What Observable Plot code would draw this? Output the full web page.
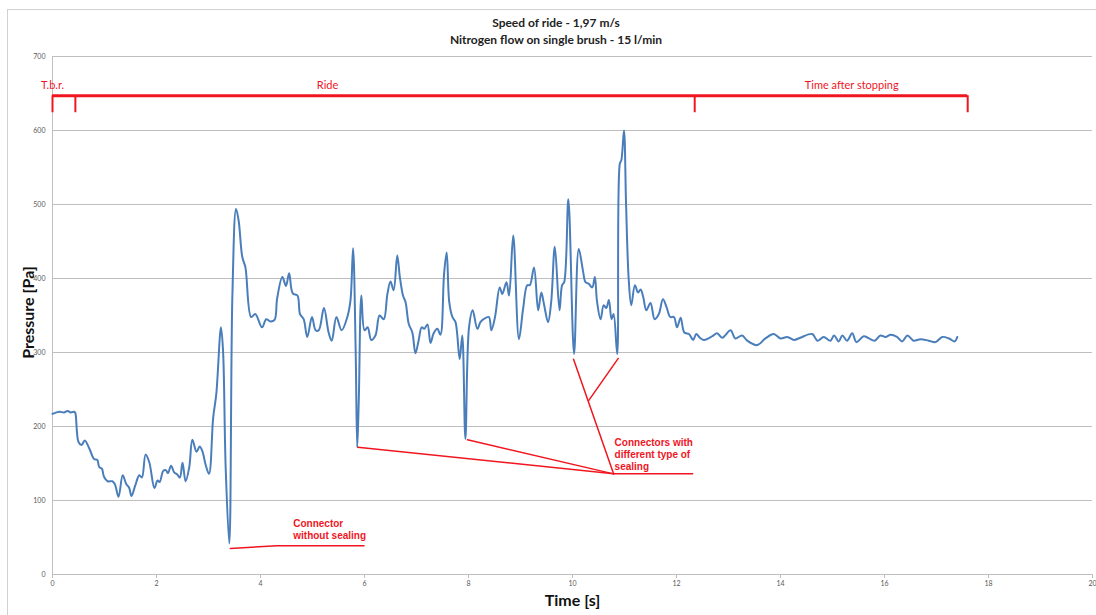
<!DOCTYPE html>
<html>
<head>
<meta charset="utf-8">
<script src="https://cdn.jsdelivr.net/npm/d3@7"></script>
<script src="https://cdn.jsdelivr.net/npm/@observablehq/plot@0.6"></script>
<style>
  html, body { margin: 0; padding: 0; background: #fff; width: 1096px; height: 615px; overflow: hidden; }
  #frame { position: absolute; left: 7px; top: 9px; width: 1200px; height: 700px; border-left: 1px solid #d0d0d0; border-top: 1px solid #d0d0d0; }
  #title { position: relative; height: 46px; width: 1096px; }
  .tl { position: absolute; left: 0; width: 1112px; text-align: center; font-family: "Liberation Sans Narrow", Lato, sans-serif; font-weight: bold; font-size: 12px; color: #222; }
  #chart { position: relative; }
</style>
</head>
<body>
<div id="frame"></div>
<div id="title">
  <div class="tl" style="top:15px">Speed of ride - 1,97 m/s</div>
  <div class="tl" style="top:32px">Nitrogen flow on single brush - 15 l/min</div>
</div>
<div id="chart"></div>
<script>
// Measured series: time [s] and pressure [Pa]
const times = [
  0, 0.13, 0.22, 0.29, 0.35, 0.42, 0.44, 0.5, 0.56, 0.62, 0.71, 0.8, 0.86, 0.9, 0.95, 0.99,
  1.06, 1.15, 1.2, 1.27, 1.35, 1.42, 1.47, 1.52, 1.59, 1.67, 1.72, 1.79, 1.86, 1.96,
  2.02, 2.06, 2.13, 2.18, 2.22, 2.28, 2.34, 2.40, 2.45, 2.50, 2.56, 2.63, 2.69, 2.77, 2.83, 2.88, 2.95,
  3.01, 3.09, 3.15, 3.24, 3.28, 3.33, 3.40, 3.46, 3.53, 3.58, 3.65, 3.71, 3.82, 3.90,
  4.03, 4.11, 4.19, 4.27, 4.32, 4.42, 4.49, 4.55, 4.62, 4.71, 4.76, 4.83, 4.90, 4.99,
  5.06, 5.12, 5.22, 5.31, 5.37, 5.46, 5.56, 5.67, 5.73, 5.78, 5.83, 5.86, 5.89, 5.94,
  6.0, 6.06, 6.13, 6.21, 6.29, 6.37, 6.44, 6.5, 6.56, 6.63, 6.68, 6.74, 6.79, 6.85, 6.92, 6.98,
  7.04, 7.10, 7.15, 7.21, 7.27, 7.33, 7.40, 7.46, 7.53, 7.58, 7.63, 7.69, 7.75, 7.83, 7.88, 7.94,
  8.01, 8.08, 8.17, 8.23, 8.29, 8.39, 8.44, 8.51, 8.60, 8.65, 8.73, 8.78, 8.86, 8.97,
  9.05, 9.13, 9.18, 9.26, 9.34, 9.40, 9.45, 9.53, 9.59, 9.66, 9.75, 9.80, 9.84, 9.92,
  10.03, 10.12, 10.20, 10.25, 10.31, 10.38, 10.43, 10.47, 10.54, 10.60, 10.65, 10.70, 10.75, 10.79, 10.86, 10.91, 10.94, 10.99,
  11.03, 11.08, 11.13, 11.20, 11.26, 11.31, 11.36, 11.42, 11.50, 11.58, 11.66, 11.74, 11.81, 11.88, 11.95,
  12.01, 12.08, 12.15, 12.24, 12.32, 12.38, 12.45, 12.53, 12.69, 12.78, 12.88,
  13.04, 13.13, 13.26, 13.36, 13.55, 13.71, 13.87, 14.00, 14.13, 14.26, 14.38, 14.61, 14.71, 14.83, 14.96,
  15.03, 15.12, 15.19, 15.28, 15.38, 15.46, 15.60, 15.70, 15.81, 15.92,
  16.02, 16.12, 16.24, 16.34, 16.44, 16.56, 16.69, 16.85, 16.98, 17.11, 17.24, 17.35, 17.40
];
const pressure = [
  217, 220, 219, 221, 219, 220, 218, 179, 175, 181, 170, 156, 155, 145, 143, 132,
  126, 126, 122, 105, 134, 122, 118, 106, 120, 134, 131, 162, 152, 117,
  127, 125, 140, 141, 137, 147, 138, 135, 131, 151, 126, 145, 182, 166, 173, 167, 147,
  136, 212, 244, 334, 302, 145, 42, 379, 494, 478, 429, 415, 348, 352,
  334, 345, 342, 344, 373, 402, 390, 407, 380, 377, 352, 345, 321, 348,
  330, 330, 360, 327, 316, 348, 330, 348, 370, 441, 303, 172, 235, 377,
  330, 334, 317, 323, 350, 345, 379, 396, 384, 431, 402, 377, 368, 339, 327, 299,
  316, 334, 332, 338, 313, 326, 332, 324, 406, 435, 368, 348, 341, 291, 323, 183,
  334, 357, 332, 341, 345, 348, 330, 348, 388, 379, 395, 377, 458, 318,
  359, 391, 391, 415, 357, 381, 366, 341, 368, 443, 357, 391, 395, 507,
  298, 440, 411, 395, 393, 388, 402, 370, 345, 364, 360, 371, 345, 352, 298, 555, 560, 600,
  501, 400, 364, 391, 381, 385, 375, 357, 367, 345, 352, 372, 361, 348, 348,
  334, 347, 327, 325, 317, 325, 320, 317, 322, 326, 320,
  330, 319, 323, 316, 310, 319, 325, 319, 321, 317, 320, 325, 316, 321, 316,
  323, 315, 323, 316, 326, 314, 322, 319, 316, 323,
  321, 324, 321, 315, 323, 316, 318, 316, 314, 321, 319, 315, 321
];
const xTicks = [0, 2, 4, 6, 8, 10, 12, 14, 16, 18, 20];
const yTicks = [0, 100, 200, 300, 400, 500, 600, 700];

// Phase bracket (time boundaries) and labels
const phaseBounds = [0, 0.44, 12.35, 17.6];
const phaseNames = ["T.b.r.", "Ride", "Time after stopping"];
const phaseLabelT = [0, 5.29, 15.37];
const phaseAnchor = ["start", "middle", "middle"];

// Annotation leader lines (time, pressure) grouped by id
const leaderId = ["a","a","a","b","b","c","c","d","d","e","e","f","f"];
const leaderT  = [3.42, 4.32, 5.99, 5.87, 10.79, 7.98, 10.79, 10.02, 10.79, 10.88, 10.31, 10.79, 12.31];
const leaderP  = [35, 39, 39, 172, 136, 182, 136, 291, 136, 292, 235, 136, 136];
const noteText = ["Connector\nwithout sealing", "Connectors with\ndifferent type of\nsealing"];
const noteT = [4.63, 10.81];
const noteP = [61, 163];

const series = times.map((t, i) => ({t, p: pressure[i]}));
const leaders = leaderT.map((t, i) => ({id: leaderId[i], t, p: leaderP[i]}));
const notes = noteText.map((s, i) => ({s, t: noteT[i], p: noteP[i]}));
const bracketTop = 647, bracketLow = 624, labelP = 661;
const bracketTicks = phaseBounds.map(t => ({t}));
const phases = phaseNames.map((s, i) => ({s, t: phaseLabelT[i], a: phaseAnchor[i]}));

const RED = "#f0161f";
const narrow = "'Liberation Sans Narrow', Lato, sans-serif";

const plot = Plot.plot({
  width: 1096,
  height: 569,
  marginTop: 10,
  marginBottom: 41,
  marginLeft: 52,
  marginRight: 4,
  style: {fontFamily: "Lato, sans-serif", background: "transparent"},
  x: {domain: [0, 20]},
  y: {domain: [0, 700]},
  marks: [
    Plot.gridY(yTicks.slice(1), {stroke: "#bfbfbf", strokeOpacity: 1}),
    Plot.ruleY([0], {stroke: "#bfbfbf"}),
    Plot.ruleX([0], {stroke: "#bfbfbf"}),
    Plot.axisX(xTicks, {tickSize: 4, tickPadding: 3, stroke: "#bfbfbf", fill: "#595959", fontSize: 7, label: null}),
    Plot.axisY(yTicks, {tickSize: 0, tickPadding: 7, fill: "#595959", fontSize: 7, label: null}),
    Plot.text(["Time [s]"], {frameAnchor: "bottom", textAnchor: "middle", dy: 31, fontSize: 16, fontWeight: "bold", fill: "#111", fontFamily: "Lato, sans-serif"}),
    Plot.text(["Pressure [Pa]"], {frameAnchor: "left", textAnchor: "middle", dx: -24, dy: -3, rotate: -90, fontSize: 16, fontWeight: "bold", fill: "#111", fontFamily: "Lato, sans-serif"}),
    // red phase bracket
    Plot.ruleY([bracketTop], {x1: phaseBounds[0], x2: phaseBounds[3], stroke: RED, strokeWidth: 3}),
    Plot.ruleX(bracketTicks, {x: "t", y1: bracketLow, y2: bracketTop, stroke: RED, strokeWidth: 2}),
    Plot.text(phases, {x: "t", y: labelP, text: "s", textAnchor: d => d.a, fill: RED, fontSize: 11, fontFamily: narrow}),
    // data line
    Plot.line(series, {x: "t", y: "p", stroke: "#4a7ebb", strokeWidth: 2, curve: "catmull-rom"}),
    // annotations
    Plot.line(leaders, {x: "t", y: "p", z: "id", stroke: RED, strokeWidth: 1.5}),
    Plot.text(notes, {x: "t", y: "p", text: "s", textAnchor: "start", lineAnchor: "middle", lineHeight: 1.2, fill: RED, fontSize: 10, fontWeight: "bold", fontFamily: "'Liberation Sans', Arial, sans-serif"})
  ]
});
document.getElementById("chart").appendChild(plot);
</script>
</body>
</html>
